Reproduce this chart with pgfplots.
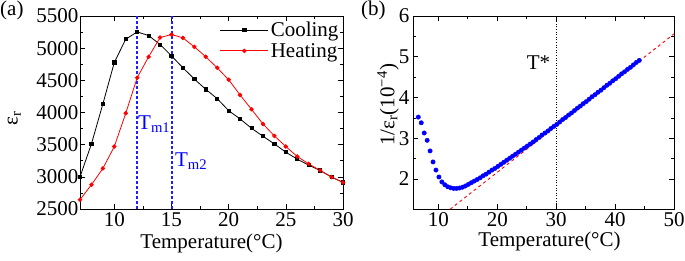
\documentclass[border=0pt]{standalone}
\usepackage{pgfplots}
\pgfplotsset{compat=1.18}
\usepackage{fontspec}
\setmainfont{Liberation Serif}
\definecolor{vblue}{RGB}{30,30,255}

\begin{document}
\begin{tikzpicture}[font=\fontsize{21}{25}\selectfont]
\pgfplotsset{
 every axis/.append style={
  scale only axis, height=193pt,
  tick align=inside, minor tick num=1,
  /pgf/number format/assume math mode=true,
  tick label style={font=\fontsize{21}{25}\selectfont},
  label style={font=\fontsize{21}{25}\selectfont},
  axis line style={line width=0.8pt},
  major tick length=5pt, minor tick length=3pt,
  every tick/.style={black, line width=0.6pt},
 },
}
% ---------------- (a) ----------------
\begin{axis}[at={(0pt,0pt)}, anchor=south west, width=263pt,
  xmin=7, xmax=30, ymin=2500, ymax=5500,
  xtick={10,15,20,25,30}, ytick={2500,3000,...,5500},
  scaled y ticks=false,
  yticklabel style={/pgf/number format/set thousands separator={}, inner sep=1.5pt},
  xlabel={Temperature(°C)}, ylabel={ε\textsubscript{r}},
  xlabel style={at={(axis description cs:0.5,-0.176)}, anchor=center},
  ylabel style={at={(axis description cs:-0.25,0.47)}, anchor=center},
  legend style={draw=none, fill=none, at={(axis description cs:0.995,0.985)}, anchor=north east,
    font=\fontsize{21}{25}\selectfont, row sep=1pt, inner sep=1pt},
  legend cell align=left,
  legend image code/.code={\draw[mark repeat=2,mark phase=2,#1] plot coordinates {(0pt,0pt) (24pt,0pt) (48pt,0pt)};},
]
\addplot[black, line width=0.8pt, mark=square*, mark size=1.6pt] coordinates {
(7,3000) (8,3512) (9,4132) (10,4778) (11,5139) (12,5253) (13,5196) (14,5057)
(15,4881) (16,4695) (17,4520) (18,4360) (19,4215) (20,4029) (21,3900) (22,3755)
(23,3631) (24,3512) (25,3383) (26,3275) (27,3182) (28,3099) (29,2996) (30,2913)};
\addlegendentry{Cooling}
\addplot[red, line width=0.8pt, mark=*, mark size=1.8pt] coordinates {
(7,2645) (8,2877) (9,3130) (10,3471) (11,3988) (12,4540) (13,4866) (14,5165)
(15,5212) (16,5160) (17,5021) (18,4866) (19,4695) (20,4509) (21,4272) (22,4049)
(23,3822) (24,3636) (25,3471) (26,3316) (27,3202) (28,3099) (29,2996) (30,2913)};
\addlegendentry{Heating}
\addplot[vblue, solid, dash pattern=on 3pt off 2pt, line width=1.4pt, forget plot] coordinates {(11.99,2500) (11.99,5500)};
\addplot[vblue, solid, dash pattern=on 3pt off 2pt, line width=1.4pt, forget plot] coordinates {(15.05,2500) (15.05,5500)};
\node[blue, anchor=west, inner sep=0pt] at (axis cs:12.07,3820) {T\textsubscript{m1}};
\node[blue, anchor=west, inner sep=0pt] at (axis cs:15.3,3247) {T\textsubscript{m2}};
\end{axis}
% ---------------- (b) ----------------
\begin{axis}[at={(333pt,0pt)}, anchor=south west, width=261pt,
  xmin=5.7, xmax=50, ymin=1.265, ymax=6,
  xtick={10,20,30,40,50}, ytick={2,3,4,5,6},
  xlabel={Temperature(°C)}, ylabel={1/ε\textsubscript{r}(10\textsuperscript{−4})},
  xlabel style={at={(axis description cs:0.523,-0.17)}, anchor=center},
  ylabel style={at={(axis description cs:-0.096,0.54)}, anchor=center},
]
\addplot[blue, only marks, mark=*, mark size=2.2pt] coordinates {
(6.6,3.52) (7.1,3.38) (7.6,3.13) (8.1,2.95) (8.6,2.69) (9.1,2.42) (9.6,2.22) (10.1,2.05)
(10.6,1.93) (11.1,1.86) (11.6,1.81) (12.1,1.785) (12.6,1.77) (13.1,1.77) (13.6,1.78) (14.1,1.80)
(14.6,1.83) (15.1,1.87) (15.6,1.91) (16.1,1.95) (16.6,1.99) (17.1,2.03) (17.6,2.08) (18.1,2.12)
(18.6,2.17) (19.1,2.22) (19.6,2.26) (20.1,2.31) (20.6,2.36) (21.1,2.41) (21.6,2.46) (22.1,2.51)
(22.6,2.56) (23.1,2.61) (23.6,2.66) (24.1,2.71) (24.6,2.76) (25.1,2.81) (25.6,2.86) (26.1,2.91)
(26.6,2.97) (27.1,3.02) (27.6,3.08) (28.1,3.13) (28.6,3.18) (29.1,3.24) (29.6,3.29) (30.1,3.34)
(30.6,3.40) (31.1,3.46) (31.6,3.51) (32.1,3.57) (32.6,3.62) (33.1,3.68) (33.6,3.74) (34.1,3.79)
(34.6,3.85) (35.1,3.90) (35.6,3.96) (36.1,4.02) (36.6,4.07) (37.1,4.13) (37.6,4.18) (38.1,4.24)
(38.6,4.30) (39.1,4.35) (39.6,4.41) (40.1,4.46) (40.6,4.52) (41.1,4.58) (41.6,4.63) (42.1,4.69)
(42.6,4.74) (43.1,4.80) (43.6,4.86) (44.1,4.91)};
\addplot[red, dashed, line width=0.9pt] coordinates {(12,1.26) (50,5.56)};
\addplot[black, dotted, line width=0.6pt] coordinates {(30,1.265) (30,6)};
\node[anchor=east, inner sep=0pt] at (axis cs:29,4.85) {T*};
\end{axis}
\node[anchor=west, inner sep=0pt] at (-80pt,199pt) {(a)};
\node[anchor=west, inner sep=0pt] at (281pt,199pt) {(b)};
\pgfresetboundingbox
\path[use as bounding box] (-80pt,-51pt) rectangle (605pt,209pt);
\end{tikzpicture}
\end{document}
